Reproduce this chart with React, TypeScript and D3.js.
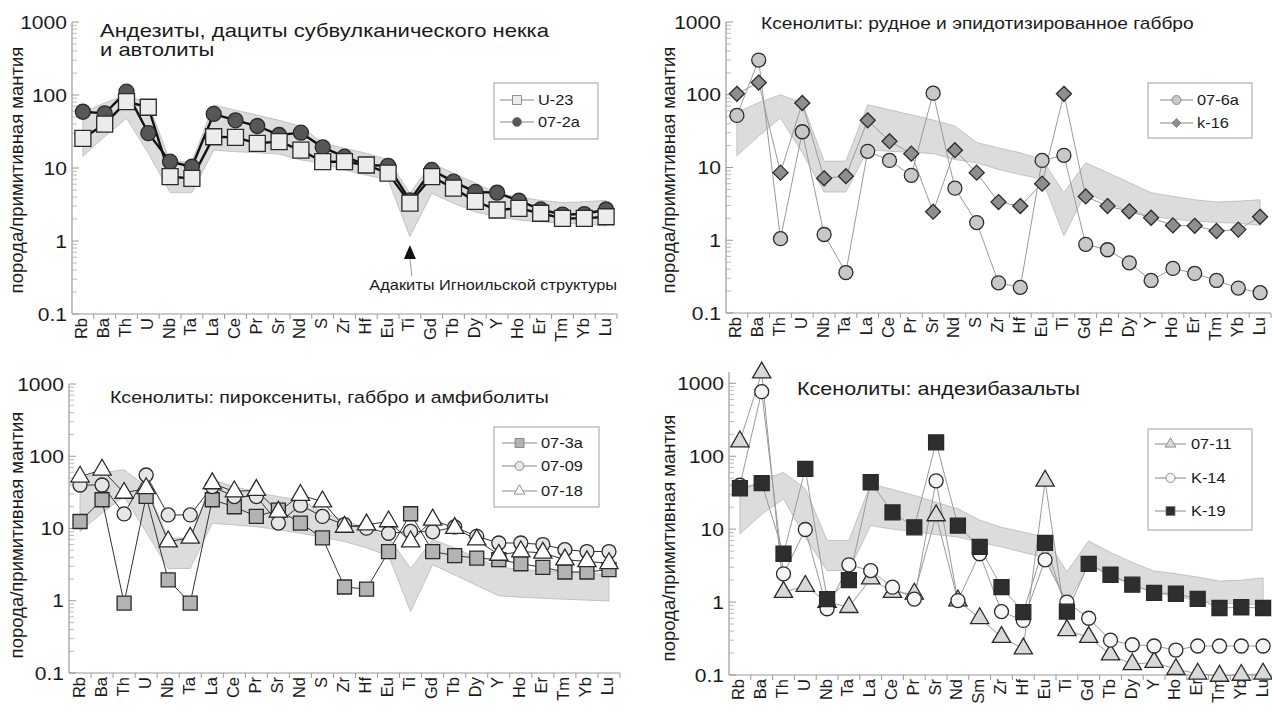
import * as d3 from "d3";

// ---- categories ----
const elements = ["Rb", "Ba", "Th", "U", "Nb", "Ta", "La", "Ce", "Pr", "Sr", "Nd", "S", "Zr", "Hf", "Eu", "Ti", "Gd", "Tb", "Dy", "Y", "Ho", "Er", "Tm", "Yb", "Lu"];
const elementsSm = ["Rb", "Ba", "Th", "U", "Nb", "Ta", "La", "Ce", "Pr", "Sr", "Nd", "Sm", "Zr", "Hf", "Eu", "Ti", "Gd", "Tb", "Dy", "Y", "Ho", "Er", "Tm", "Yb", "Lu"];
const yTickValues = [0.1, 1, 10, 100, 1000];
const yTickLabels = ["0.1", "1", "10", "100", "1000"];

// ---- adakite field (grey band), upper and lower edge ----
const adakiteHiA = [57, 78, 100, 77, 12.2, 12.2, 73, 62, 53, 45, 37, 22, 18.6, 15.9, 12.9, 4.5, 11.6, 8.5, 6.2, 4.5, 4.0, 3.6, 3.35, 3.45, 3.6];
const adakiteLoA = [14.5, 27, 48, 16, 4.6, 4.6, 17.6, 16.7, 16.2, 15.5, 12.9, 11.6, 9.4, 8, 6.9, 1.15, 4.5, 3.3, 2.5, 2.15, 1.94, 1.84, 1.75, 1.72, 1.6];
const adakiteHiC = [50, 59, 65, 38, 7.4, 7.4, 47, 38, 32, 27.6, 25, 17, 13, 10, 7.5, 2.8, 7.0, 5.4, 3.9, 2.95, 2.7, 2.6, 2.5, 2.4, 2.3];
const adakiteLoC = [9.1, 16.4, 27.6, 9, 2.8, 2.8, 11.8, 11.2, 10.6, 9.6, 8.6, 7.6, 6.6, 5.4, 4.2, 0.71, 3.15, 2.27, 1.63, 1.17, 1.12, 1.08, 1.05, 1.02, 0.99];
const adakiteHiD = [32, 47, 60, 36, 7.0, 7.0, 42, 35, 29, 23.4, 19, 13.3, 10.6, 9.1, 7.8, 2.6, 6.9, 4.8, 3.5, 2.66, 2.45, 2.2, 1.94, 2.0, 2.15];
const adakiteLoD = [8.6, 16, 26, 7.7, 2.7, 2.7, 11.2, 10, 9.3, 8.4, 7.8, 6.6, 5.7, 4.8, 4.1, 0.95, 3.2, 2.3, 1.7, 1.37, 1.17, 1.06, 0.97, 0.95, 0.9];

// ---- samples ----
const u23 = [25.5, 40, 81, 68, 7.6, 7.2, 26.8, 26.3, 21.8, 23, 17.6, 12.2, 12.2, 11, 8.5, 3.3, 7.6, 5.3, 3.5, 2.66, 2.8, 2.4, 2.04, 2.04, 2.15];
const s072a = [59, 56, 111, 30, 12.2, 10.4, 55, 45, 37.6, 28.3, 30.5, 19.2, 14.3, 11, 10.7, 3.6, 9.4, 6.5, 4.7, 4.6, 3.56, 2.7, 2.3, 2.34, 2.7];

const s076a = [52, 300, 1.05, 31, 1.2, 0.36, 16.7, 12.5, 7.8, 105, 5.2, 1.75, 0.26, 0.225, 12.5, 14.7, 0.88, 0.74, 0.49, 0.28, 0.41, 0.35, 0.28, 0.22, 0.19];
const k16 = [103, 147, 8.5, 77, 7.1, 7.6, 44.5, 23, 15.5, 2.47, 17.3, 8.5, 3.35, 2.95, 6.0, 103, 4.0, 2.95, 2.5, 2.04, 1.6, 1.58, 1.34, 1.4, 2.1];

const s073a = [12.5, 25, 0.93, 27.8, 1.95, 0.93, 25, 20, 14.7, 18, 11.9, 7.4, 1.55, 1.45, 4.8, 16, 4.8, 4.2, 3.9, 3.7, 3.25, 2.9, 2.5, 2.5, 2.7];
const s0709 = [40, 40, 15.9, 55, 15.4, 15.4, 38, 27.7, 27.7, 11.9, 21, 14.7, 11.3, 10.1, 8.6, 9.1, 9.0, 10.5, 7.8, 6.3, 6.3, 6.0, 5.1, 4.8, 4.8];
const s0718 = [52, 65, 31, 36, 6.6, 7.4, 42, 32.5, 34, 17, 29, 23.6, 10.5, 11.3, 12.5, 6.6, 13.2, 10.1, 7.0, 4.3, 4.8, 4.6, 3.7, 3.5, 3.3];

const s0711 = [159, 1400, 1.37, 1.66, 1.0, 0.85, 2.1, 1.37, 1.3, 15.4, 1.05, 0.6, 0.33, 0.23, 46, 0.41, 0.33, 0.19, 0.14, 0.15, 0.12, 0.104, 0.097, 0.1, 0.104];
const k14 = [40, 769, 2.44, 9.9, 0.81, 3.24, 2.7, 1.6, 1.1, 46, 1.05, 4.6, 0.74, 0.56, 3.8, 1.0, 0.6, 0.3, 0.26, 0.25, 0.22, 0.25, 0.25, 0.25, 0.25];
const k19 = [36.4, 42.7, 4.6, 67, 1.1, 2.0, 44, 17, 10.6, 155, 11.2, 5.7, 1.6, 0.73, 6.5, 0.74, 3.35, 2.37, 1.73, 1.34, 1.3, 1.11, 0.83, 0.85, 0.83];

const yTitle = "порода/примитивная мантия";
const FONT = "'Liberation Sans', Arial, Helvetica, sans-serif";
const SX = 1.17; // the scan is a bit wider than tall

type Shape = "square" | "circle" | "diamond" | "triangle";
type Series = { name: string; values: number[]; shape: Shape; fill: string; size: number };

function markerPath(shape: Shape, s: number) {
  const h = s / 2;
  if (shape === "square") return `M${-h},${-h}h${s}v${s}h${-s}Z`;
  if (shape === "diamond") return `M0,${-h}L${h},0L0,${h}L${-h},0Z`;
  if (shape === "triangle") return d3.symbol().type(d3.symbolTriangle).size(s * s * 0.5)()!;
  return d3.symbol().type(d3.symbolCircle).size((Math.PI * s * s) / 4)()!;
}

function T({ x, y, size, anchor = "start", rotate = false, children }: any) {
  const tf = rotate ? `translate(${x},${y}) rotate(-90)` : `translate(${x},${y}) scale(${SX},1)`;
  return (
    <text transform={tf} fontSize={size} textAnchor={anchor} fontFamily={FONT} fill="#1a1a1a">
      {children}
    </text>
  );
}

function Panel({ cfg }: { cfg: any }) {
  const cats: string[] = cfg.categories;
  const x = d3.scaleBand().domain(cats).range([cfg.x0, cfg.x1]);
  const y = d3.scaleLog().domain(cfg.yDomain).range([cfg.yBot, cfg.yTop]);
  const cx = (i: number) => (x(cats[i]) as number) + x.bandwidth() / 2;

  const band = d3
    .area<number>()
    .x((_, i) => cx(i))
    .y0((_, i) => y(cfg.bandLo[i]))
    .y1((d) => y(d));
  const line = d3
    .line<number>()
    .x((_, i) => cx(i))
    .y((d) => y(d));

  const minor: number[] = [];
  for (let e = -1; e <= 3; e++) {
    for (let k = 2; k <= 9; k++) {
      const v = k * Math.pow(10, e);
      if (v < cfg.yDomain[1]) minor.push(v);
    }
  }

  const series: Series[] = cfg.series;
  const lg = cfg.legend;

  return (
    <g>
      <path d={band(cfg.bandHi)!} fill="#dcdcdc" stroke="#b8b8b8" strokeWidth={0.8} />

      {/* axes */}
      <line x1={cfg.x0} x2={cfg.x0} y1={cfg.yTop} y2={cfg.yBot} stroke="#9a9a9a" strokeWidth={1.2} />
      <line x1={cfg.x0} x2={cfg.x1} y1={cfg.yBot} y2={cfg.yBot} stroke="#9a9a9a" strokeWidth={1.2} />
      {minor.map((v) => (
        <line key={"m" + v} x1={cfg.x0} x2={cfg.x0 + 5} y1={y(v)} y2={y(v)} stroke="#aaa" strokeWidth={0.8} />
      ))}
      {yTickValues.map((v, i) => (
        <g key={"t" + v}>
          <line x1={cfg.x0} x2={cfg.x0 + 7} y1={y(v)} y2={y(v)} stroke="#999" strokeWidth={1} />
          <T x={cfg.x0 - 5} y={y(v) + 6.5} size={18} anchor="end">
            {yTickLabels[i]}
          </T>
        </g>
      ))}
      {cats.map((c) => (
        <line key={"xt" + c} x1={x(c)! + x.bandwidth()} x2={x(c)! + x.bandwidth()} y1={cfg.yBot} y2={cfg.yBot + 5} stroke="#999" strokeWidth={1} />
      ))}
      {cats.map((c, i) => (
        <T key={"xl" + c} x={cx(i) + 4.5} y={cfg.yBot + 4} size={16.5} anchor="end" rotate>
          {c}
        </T>
      ))}
      <T x={cfg.yTitleX} y={cfg.yTitleY} size={18.5} anchor="middle" rotate>
        {yTitle}
      </T>

      {/* title */}
      {cfg.title.map((t: any, i: number) => (
        <T key={"ti" + i} x={t.x} y={t.y} size={cfg.titleSize}>
          {t.text}
        </T>
      ))}

      {/* series lines then markers */}
      {series.map((s) => (
        <path key={"l" + s.name} d={line(s.values)!} fill="none" stroke={cfg.lineColor} strokeWidth={cfg.lineWidth} />
      ))}
      {cfg.drawOrder.map((k: number) => {
        const s = series[k];
        return s.values.map((v, i) => (
          <path
            key={s.name + i}
            d={markerPath(s.shape, s.size)}
            transform={`translate(${cx(i)},${y(v)})`}
            fill={s.fill}
            stroke="#2a2a2a"
            strokeWidth={1.3}
          />
        ));
      })}

      {/* legend */}
      <rect x={lg.x} y={lg.y} width={lg.w} height={lg.h} fill="#fff" stroke="#a0a0a0" strokeWidth={1} />
      {series.map((s, i) => (
        <g key={"lg" + s.name}>
          <line x1={lg.lineX[0]} x2={lg.lineX[1]} y1={lg.rows[i]} y2={lg.rows[i]} stroke="#888" strokeWidth={1} />
          <path
            d={markerPath(s.shape, s.shape === "triangle" ? 10 : 9)}
            transform={`translate(${(lg.lineX[0] + lg.lineX[1]) / 2},${lg.rows[i]})`}
            fill={s.fill}
            stroke="#777"
            strokeWidth={0.8}
          />
          <T x={lg.textX} y={lg.rows[i] + 5} size={14}>
            {s.name}
          </T>
        </g>
      ))}

      {cfg.note && (
        <g>
          <path d={`M${cx(cfg.note.at)},${cfg.note.tip}l6,14h-12Z`} fill="#111" />
          <path d={`M${cx(cfg.note.at)},${cfg.note.tip + 14}q1,8,2,17`} fill="none" stroke="#999" strokeWidth={1} />
          <T x={cfg.note.x} y={cfg.note.y} size={14} anchor="end">
            {cfg.note.text}
          </T>
        </g>
      )}
    </g>
  );
}

const panels = [
  {
    categories: elements,
    x0: 72, x1: 617, yTop: 22, yBot: 314, yDomain: [0.1, 1000],
    bandHi: adakiteHiA, bandLo: adakiteLoA,
    yTitleX: 23, yTitleY: 170,
    titleSize: 18.8,
    title: [
      { text: "Андезиты, дациты субвулканического некка", x: 100, y: 37 },
      { text: "и автолиты", x: 100, y: 56 },
    ],
    lineColor: "#111", lineWidth: 2.4,
    series: [
      { name: "U-23", values: u23, shape: "square", fill: "#ececec", size: 16 },
      { name: "07-2a", values: s072a, shape: "circle", fill: "#575757", size: 15 },
    ],
    drawOrder: [1, 0],
    legend: { x: 494, y: 83, w: 104, h: 56, rows: [100, 122], lineX: [500, 534], textX: 538 },
    note: { at: 15, tip: 245, x: 617, y: 290, text: "Адакиты Игноильской структуры" },
  },
  {
    categories: elements,
    x0: 726, x1: 1271, yTop: 22, yBot: 313, yDomain: [0.1, 1000],
    bandHi: adakiteHiA, bandLo: adakiteLoA,
    yTitleX: 675, yTitleY: 170,
    titleSize: 16.4,
    title: [{ text: "Ксенолиты: рудное и эпидотизированное габбро", x: 761, y: 29 }],
    lineColor: "#9a9a9a", lineWidth: 1,
    series: [
      { name: "07-6a", values: s076a, shape: "circle", fill: "#c8c8c8", size: 14 },
      { name: "k-16", values: k16, shape: "diamond", fill: "#8e8e8e", size: 15 },
    ],
    drawOrder: [0, 1],
    legend: { x: 1148, y: 83, w: 104, h: 55, rows: [100, 123], lineX: [1160, 1193], textX: 1197 },
  },
  {
    categories: elements,
    x0: 69, x1: 620, yTop: 384, yBot: 673, yDomain: [0.1, 1000],
    bandHi: adakiteHiC, bandLo: adakiteLoC,
    yTitleX: 23, yTitleY: 535,
    titleSize: 16.7,
    title: [{ text: "Ксенолиты: пироксениты, габбро и амфиболиты", x: 110, y: 403 }],
    lineColor: "#333", lineWidth: 1,
    series: [
      { name: "07-3a", values: s073a, shape: "square", fill: "#b3b3b3", size: 14 },
      { name: "07-09", values: s0709, shape: "circle", fill: "#e6e6e6", size: 14 },
      { name: "07-18", values: s0718, shape: "triangle", fill: "#ffffff", size: 17 },
    ],
    drawOrder: [0, 1, 2],
    legend: { x: 494, y: 427, w: 105, h: 80, rows: [443, 466, 491], lineX: [502, 537], textX: 541 },
  },
  {
    categories: elementsSm,
    x0: 729, x1: 1274, yTop: 372, yBot: 675, yDomain: [0.1, 1430],
    bandHi: adakiteHiD, bandLo: adakiteLoD,
    yTitleX: 675, yTitleY: 538,
    titleSize: 18.4,
    title: [{ text: "Ксенолиты: андезибазальты", x: 797, y: 395 }],
    lineColor: "#9a9a9a", lineWidth: 1,
    series: [
      { name: "07-11", values: s0711, shape: "triangle", fill: "#d9d9d9", size: 17 },
      { name: "K-14", values: k14, shape: "circle", fill: "#f6f6f6", size: 14 },
      { name: "K-19", values: k19, shape: "square", fill: "#2e2e2e", size: 15 },
    ],
    drawOrder: [0, 1, 2],
    legend: { x: 1148, y: 429, w: 104, h: 101, rows: [444, 478, 511], lineX: [1155, 1186], textX: 1191 },
  },
];

export default function App() {
  return (
    <svg
      width={1272}
      height={716}
      viewBox="0 0 1272 716"
      style={{ position: "absolute", left: 0, top: 0, background: "#fff" }}
    >
      <rect width={1272} height={716} fill="#fff" />
      {panels.map((p, i) => (
        <Panel key={i} cfg={p} />
      ))}
    </svg>
  );
}
